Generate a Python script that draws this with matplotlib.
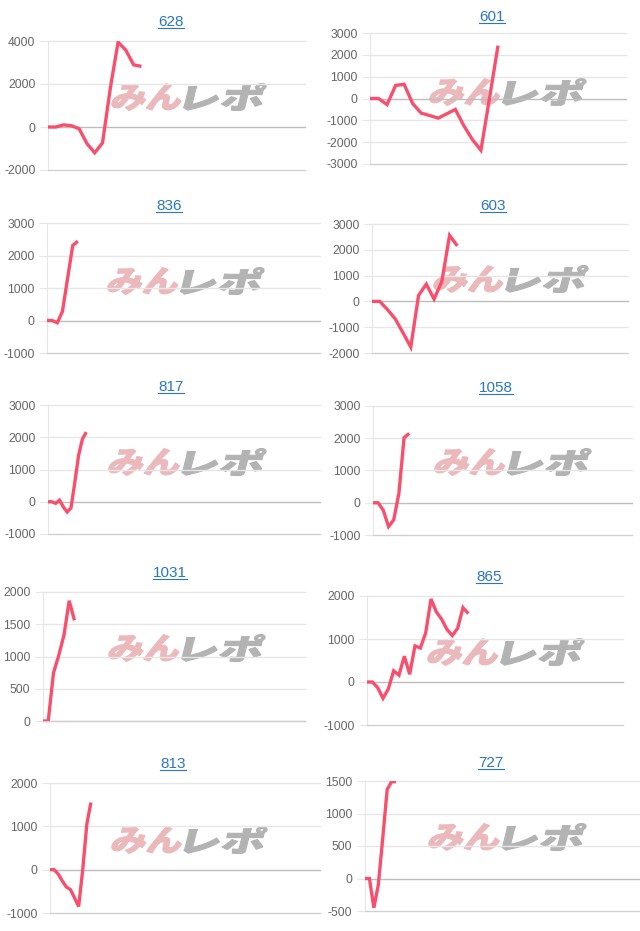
import numpy as np
import matplotlib
matplotlib.use('Agg')
from matplotlib import pyplot as plt
from matplotlib.textpath import TextPath
from matplotlib.patches import PathPatch
from matplotlib.font_manager import FontProperties
from matplotlib.transforms import Affine2D, IdentityTransform
from matplotlib.lines import Line2D

plt.rcParams['font.family'] = ['Liberation Sans', 'DejaVu Sans']
plt.rcParams['axes.unicode_minus'] = False

W, H = 640, 931

# data
titles = ['628', '601', '836', '603', '817', '1058', '1031', '865', '813', '727']
v628 = [0, 0, 100, 60, -80, -770, -1200, -740, 1800, 3950, 3570, 2890, 2820]
v601 = [0, 0, -280, 600, 650, -230, -670, -780, -900, -700, -500, -1250, -1880, -2370, 0, 2420]
v836 = [0, 0, -70, 280, 1300, 2310, 2440]
v603 = [0, 0, -320, -680, -1220, -1770, 230, 670, 90, 770, 2560, 2150]
v817 = [0, 0, -50, 50, -160, -320, -190, 600, 1450, 1950, 2160]
v1058 = [0, 0, -240, -740, -530, 290, 2020, 2150]
v1031 = [0, 0, 745, 1015, 1330, 1865, 1560]
v865 = [0, 0, -130, -380, -160, 260, 160, 600, 180, 840, 790, 1140, 1930,
        1630, 1460, 1220, 1080, 1250, 1730, 1590]
v813 = [0, 0, -100, -260, -400, -460, -650, -850, 0, 1050, 1550]
v727 = [0, 0, -450, -100, 620, 1370, 1490, 1490]
series = [v628, v601, v836, v603, v817, v1058, v1031, v865, v813, v727]
slots = [33, 30, 53, 33, 71, 50, 50, 48, 66, 62]
yranges = [(-2000, 4000, 2000), (-3000, 3000, 1000), (-1000, 3000, 1000),
           (-2000, 3000, 1000), (-1000, 3000, 1000), (-1000, 3000, 1000),
           (0, 2000, 500), (-1000, 2000, 1000), (-1000, 2000, 1000),
           (-500, 1500, 500)]

# layout in pixels: plot left, right, top, bottom
boxes = [(48, 305, 41, 170), (370, 626, 33, 164),
         (47, 320, 223, 353), (372, 628, 224, 353),
         (48, 320, 405, 534), (373, 632, 406, 535),
         (43, 305, 592, 721), (367, 623, 596, 725),
         (50, 320, 783, 913), (365, 640, 781, 911)]
title_pos = [(171, 22), (492, 17), (169, 206), (493, 206), (171, 387),
             (496, 388), (170, 573), (489, 577), (173, 764), (491, 763)]
wm_pos = [(110, 267, 97), (428, 587, 92), (106, 265, 281), (432, 589, 279),
          (107, 267, 462), (433, 592, 462), (107, 266, 648), (426, 585, 652),
          (110, 268, 840), (427, 587, 837)]

LINE = '#fa4f6c'
GRID = '#e6e6e6'

fig = plt.figure(figsize=(W / 100, H / 100), dpi=100)
fp = FontProperties(family='Noto Sans CJK JP', weight='black')


def watermark(x0, x1, yc):
    h = 27
    skew = 14
    shift = h * np.tan(np.radians(skew))
    parts = [('みん', '#ebb9bc', 0.47), ('レポ', '#b3b3b3', 0.53)]
    total = x1 - x0 - shift
    gap = 4
    cur = x0
    for txt, col, frac in parts:
        tp = TextPath((0, 0), txt, size=40, prop=fp)
        bb = tp.get_extents()
        w = total * frac - gap / 2
        tr = (Affine2D().translate(-bb.x0, -bb.y0)
              .scale(w / bb.width, h / bb.height)
              .skew_deg(skew, 0)
              .translate(cur, H - yc - h / 2))
        fig.add_artist(PathPatch(tp, transform=tr, facecolor=col,
                                 edgecolor=col, lw=0.8, zorder=-5))
        cur += w + gap


titles_txt = []
for k in range(10):
    l, r, t, b = boxes[k]
    ax = fig.add_axes([l / W, 1 - b / H, (r - l) / W, (b - t) / H])
    ax.set_facecolor('none')
    lo, hi, st = yranges[k]
    ax.set_ylim(lo, hi)
    ax.set_xlim(0, slots[k])
    ticks = np.arange(lo, hi + 1, st)
    ax.set_yticks(ticks)
    ax.set_yticklabels([str(int(v)) for v in ticks])
    ax.set_xticks([])
    for v in ticks:
        c = '#bdbdbd' if v == 0 else GRID
        ax.axhline(v, color=c, lw=1, zorder=1, clip_on=False)
    for s in ['top', 'right']:
        ax.spines[s].set_visible(False)
    ax.spines['left'].set_color(GRID)
    ax.spines['bottom'].set_color('#cfcfcf')
    ax.tick_params(axis='y', length=6, color=GRID, labelsize=8.7,
                   labelcolor='#666666', pad=3)
    ys = series[k]
    ax.plot(np.arange(len(ys)), ys, color=LINE, lw=2.4, zorder=3,
            solid_joinstyle='miter', solid_capstyle='butt')
    tx, ty = title_pos[k]
    titles_txt.append(fig.text(tx / W, 1 - ty / H, titles[k], ha='center',
                               va='center', fontsize=11, color='#2a76c6'))
    watermark(*wm_pos[k])

fig.canvas.draw()
rend = fig.canvas.get_renderer()
for t in titles_txt:
    bb = t.get_window_extent(rend)
    fig.add_artist(Line2D([bb.x0, bb.x1], [bb.y0 + 1, bb.y0 + 1],
                          transform=IdentityTransform(), color='#2a76c6',
                          lw=0.8))

fig.savefig('out.png', dpi=100)
